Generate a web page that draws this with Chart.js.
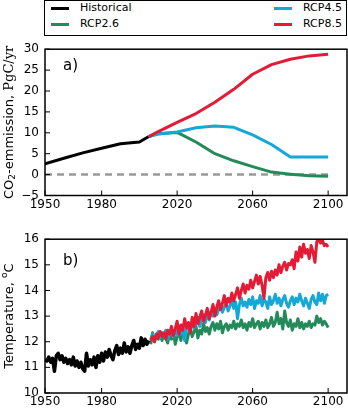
<!DOCTYPE html>
<html>
<head>
<meta charset="utf-8">
<script src="https://cdn.jsdelivr.net/npm/chart.js@4"></script>
<style>
  body { margin:0; background:#fff; font-family:"DejaVu Sans", sans-serif; }
  #wrap { position:relative; width:348px; height:410px; }
  #legend { position:absolute; left:44px; top:0; width:303px; height:36px; border:1.5px solid #000; box-sizing:border-box; font-size:11px; color:#000; }
  .li { position:absolute; }
  .sw { position:absolute; width:18px; height:3px; }
  canvas { position:absolute; left:0; }
</style>
</head>
<body>
<div id="wrap">
  <div id="legend"></div>
  <canvas id="chartA" width="348" height="190" style="top:36px"></canvas>
  <canvas id="chartB" width="348" height="184" style="top:226px"></canvas>
</div>
<script>
/* ── DATA ── */
const xTicks = [1950, 1980, 2020, 2060, 2100];

// a) emissions, PgC/yr
const emisHistYears = [1950, 1960, 1970, 1980, 1990, 2000, 2005];
const emisHist      = [2.6, 3.9, 5.2, 6.3, 7.4, 7.8, 9.1];
const emisScenYears = [2005, 2010, 2020, 2030, 2040, 2050, 2060, 2070, 2080, 2090, 2100];
const emisRcp26     = [9.1, 9.8, 10.1, 7.8, 5.0, 3.3, 1.9, 0.6, 0.1, -0.3, -0.4];
const emisRcp45     = [9.1, 9.7, 10.2, 11.2, 11.6, 11.3, 9.5, 7.2, 4.2, 4.2, 4.2];
const emisRcp85     = [9.1, 10.3, 12.5, 14.6, 17.3, 20.4, 24.0, 26.3, 27.6, 28.4, 28.8];
const emisTicks     = [-5, 0, 5, 10, 15, 20, 25, 30];

// b) temperature, annual
const tempHistStart = 1950;
const tempHist = [
  11.3, 11.25, 11.4, 11.2, 11.35, 10.85, 11.45, 11.55, 11.3, 11.45,
  11.2, 11.35, 11.15, 11.3, 11.1, 11.4, 11.05, 11.25, 11.0, 11.2,
  10.95, 10.85, 11.55, 11.05, 11.3, 11.1, 11.4, 11.0, 11.45, 11.2,
  11.55, 11.25, 11.6, 11.4, 11.7, 11.45, 11.3, 11.65, 11.85, 11.5,
  11.75, 11.55, 11.95, 11.6, 11.8, 11.55, 11.85, 12.05, 11.7, 11.9,
  11.75, 12.15, 11.85, 12.1, 11.9, 12.05
];
const tempScenStart = 2006;
const tempRcp26 = [
  11.9, 12.35, 12.0, 12.2, 12.1, 12.3, 12.05, 12.25, 12.15, 11.95,
  12.3, 12.1, 12.4, 11.9, 12.2, 12.35, 12.05, 12.45, 12.2, 11.95,
  12.3, 12.5, 12.2, 12.4, 12.6, 12.15, 12.45, 12.3, 12.7, 12.4,
  12.55, 12.3, 12.6, 12.75, 12.45, 12.7, 12.5, 12.8, 12.35, 12.6,
  12.7, 12.45, 12.65, 12.55, 12.8, 12.5, 12.7, 12.6, 12.85, 12.55,
  12.7, 12.45, 12.75, 12.6, 12.9, 12.55, 12.7, 12.8, 12.5, 12.75,
  12.6, 12.85, 12.55, 12.7, 12.95, 12.6, 12.75, 13.15, 12.7, 12.9,
  12.5, 13.2, 12.75, 12.6, 12.85, 12.45, 12.7, 12.6, 12.9, 12.55,
  12.75, 12.5, 12.7, 12.6, 12.8, 12.55, 12.7, 12.65, 13.0, 12.75,
  12.9, 12.65, 12.8, 12.7, 12.55
];
const tempRcp45 = [
  12.1, 12.3, 12.05, 12.25, 12.4, 12.15, 12.35, 12.2, 12.45, 12.1,
  12.3, 12.5, 12.2, 12.45, 12.25, 12.55, 12.3, 12.6, 12.05, 12.5,
  12.7, 12.4, 12.85, 12.55, 12.75, 12.95, 12.6, 12.9, 13.05, 12.75,
  13.1, 12.85, 13.2, 13.0, 13.3, 13.05, 13.25, 13.45, 13.15, 13.35,
  13.5, 13.2, 13.4, 13.6, 13.3, 13.55, 12.9, 13.45, 13.7, 13.4,
  13.55, 13.35, 13.65, 13.45, 13.75, 13.3, 13.6, 13.5, 13.8, 13.4,
  13.65, 13.55, 13.3, 13.75, 13.45, 13.6, 13.85, 13.5, 13.7, 13.4,
  13.65, 13.8, 13.5, 13.35, 13.6, 13.75, 13.45, 13.7, 13.55, 13.85,
  13.6, 13.4, 13.7, 13.5, 13.3, 13.65, 13.8, 13.55, 13.45, 13.9,
  13.6, 13.85, 13.5, 13.8, 13.85
];
const tempRcp85 = [
  12.05, 12.2, 12.0, 12.3, 12.15, 12.4, 12.2, 12.35, 12.1, 12.45,
  12.3, 12.6, 12.25, 12.5, 12.8, 12.3, 12.65, 12.45, 12.9, 12.55,
  12.75, 12.35, 12.95, 12.6, 13.1, 12.7, 12.95, 13.2, 12.8, 13.05,
  13.3, 12.9, 13.15, 13.45, 13.0, 13.35, 13.6, 13.25, 13.5, 13.8,
  13.4, 13.7, 13.55, 13.9, 13.6, 13.85, 14.1, 13.7, 14.0, 14.25,
  13.9, 14.2, 14.05, 14.4, 14.1, 14.35, 14.6, 14.25, 14.55, 14.2,
  13.7, 14.5, 14.7, 14.4, 14.75, 14.5, 14.8, 14.6, 15.0, 14.7,
  14.95, 15.1, 14.8, 15.05, 15.0, 15.2, 14.85, 15.5, 15.15, 15.7,
  15.3, 15.8, 15.45, 15.6, 15.25, 15.75, 15.5, 15.1, 15.9, 16.0,
  15.85, 15.95, 15.75, 15.8, 15.7
];
const tempTicks = [10, 11, 12, 13, 14, 15, 16];

const C = { hist:"#000000", r26:"#238b5a", r45:"#15a7d6", r85:"#e31b35", zero:"#999999" };
const FONT = "'DejaVu Sans', sans-serif";

/* ── LEGEND ── */
const legendItems = [
  { label:"Historical", color:C.hist, x:6,   y:7 },
  { label:"RCP2.6",     color:C.r26,  x:6,   y:23 },
  { label:"RCP4.5",     color:C.r45,  x:229, y:7 },
  { label:"RCP8.5",     color:C.r85,  x:229, y:23 },
];
const lg = document.getElementById("legend");
legendItems.forEach(it => {
  lg.insertAdjacentHTML("beforeend",
    `<div class="sw" style="left:${it.x}px;top:${it.y - 1.5}px;background:${it.color}"></div>` +
    `<div class="li" style="left:${it.x + 29}px;top:${it.y - 7}px;line-height:14px">${it.label}</div>`);
});

/* ── HELPERS ── */
const pts = (xs, ys) => ys.map((v, i) => ({ x: xs[i], y: v }));
const annual = (start, ys) => ys.map((v, i) => ({ x: start + i, y: v }));
const line = (data, color, order, w = 3) => ({
  data, borderColor: color, borderWidth: w, pointRadius: 0, tension: 0, fill: false, order,
  borderJoinStyle: "round", borderCapStyle: "butt"
});

// frame + inward ticks + panel letter + mixed-font y title
function panelPlugin(letter, lx, ly, titleParts) {
  return {
    id: "panel" + letter,
    afterDraw(chart) {
      const { ctx, chartArea: a, scales } = chart;
      ctx.save();
      ctx.strokeStyle = "#000"; ctx.lineWidth = 1.5;
      ctx.strokeRect(a.left, a.top, a.right - a.left, a.bottom - a.top);
      ctx.lineWidth = 1;
      ctx.beginPath();
      scales.x.ticks.forEach(t => { const px = scales.x.getPixelForValue(t.value); ctx.moveTo(px, a.bottom); ctx.lineTo(px, a.bottom - 5); });
      scales.y.ticks.forEach(t => { const py = scales.y.getPixelForValue(t.value); ctx.moveTo(a.left, py); ctx.lineTo(a.left + 5, py); });
      ctx.stroke();
      ctx.fillStyle = "#000";
      ctx.font = "15px " + FONT;
      ctx.textBaseline = "middle"; ctx.textAlign = "left";
      ctx.fillText(letter + ")", a.left + lx, a.top + ly);
      // y title
      let total = 0;
      titleParts.forEach(p => { ctx.font = p.font; p.w = ctx.measureText(p.text).width; total += p.w; });
      ctx.translate(10, (a.top + a.bottom) / 2);
      ctx.rotate(-Math.PI / 2);
      let x = -total / 2;
      titleParts.forEach(p => { ctx.font = p.font; ctx.fillText(p.text, x, p.dy || 0); x += p.w; });
      ctx.restore();
    }
  };
}

function makeChart(id, datasets, yMin, yMax, yTicks, xHeight, pad, plugin) {
  return new Chart(document.getElementById(id), {
    type: "line",
    data: { datasets },
    options: {
      responsive: false, animation: false,
      layout: { padding: pad },
      plugins: { legend: { display: false }, tooltip: { enabled: false } },
      scales: {
        x: {
          type: "linear", min: 1950, max: 2110,
          afterBuildTicks: s => { s.ticks = xTicks.map(v => ({ value: v })); },
          afterFit: s => { s.height = xHeight; },
          grid: { display: false, drawTicks: false }, border: { display: false },
          ticks: { color: "#000", font: { family: FONT, size: 12 }, padding: 2, maxRotation: 0, autoSkip: false, callback: v => String(v) }
        },
        y: {
          min: yMin, max: yMax,
          afterBuildTicks: s => { s.ticks = yTicks.map(v => ({ value: v })); },
          afterFit: s => { s.width = 45; },
          grid: { display: false, drawTicks: false }, border: { display: false },
          ticks: { color: "#000", font: { family: FONT, size: 12 }, padding: 6, autoSkip: false, callback: v => v < 0 ? "\u2212" + Math.abs(v) : String(v) }
        }
      }
    },
    plugins: [plugin]
  });
}

/* ── PANEL A ── */
makeChart("chartA", [
  line(pts(emisScenYears, emisRcp85), C.r85, 1),
  line(pts(emisScenYears, emisRcp45), C.r45, 2),
  line(pts(emisScenYears, emisRcp26), C.r26, 3),
  line(pts(emisHistYears, emisHist), C.hist, 4),
  { ...line([{ x: 1950, y: 0 }, { x: 2100, y: 0 }], C.zero, 5, 2.5), borderDash: [7, 5] },
], -5, 30, emisTicks, 30.5, { top: 6, right: 1 },
  panelPlugin("a", 18, 17, [
    { text: "CO", font: "13px " + FONT },
    { text: "2", font: "9px " + FONT, dy: 3 },
    { text: "-emmission, ", font: "13px " + FONT },
    { text: "PgC/yr", font: "13px 'DejaVu Serif', serif" }
  ]));

/* ── PANEL B ── */
makeChart("chartB", [
  line(annual(tempScenStart, tempRcp85), C.r85, 1),
  line(annual(tempScenStart, tempRcp45), C.r45, 2),
  line(annual(tempScenStart, tempRcp26), C.r26, 3),
  line(annual(tempHistStart, tempHist), C.hist, 0, 3.5),
], 10, 16, tempTicks, 17, { top: 12, right: 1 },
  panelPlugin("b", 18, 22, [
    { text: "Temperature, ", font: "13px " + FONT },
    { text: "o", font: "9px " + FONT, dy: -5 },
    { text: "C", font: "13px " + FONT }
  ]));
</script>
</body>
</html>
